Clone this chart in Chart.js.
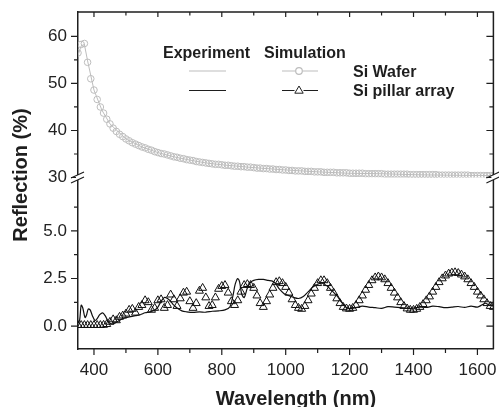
<!DOCTYPE html>
<html>
<head>
<meta charset="utf-8">
<script src="https://cdn.jsdelivr.net/npm/chart.js@4.4.0/dist/chart.umd.min.js"></script>
<style>
  html, body { margin: 0; padding: 0; background: #fff; }
</style>
</head>
<body>
<canvas id="chart" width="499" height="407"></canvas>
<script>
// Reflection spectra: Si wafer vs Si pillar array

// simulation wavelengths (nm)
const simWl = [
  350, 360, 370, 380, 390, 400, 410, 420, 430, 440,
  450, 460, 470, 480, 490, 500, 510, 520, 530, 540,
  550, 560, 570, 580, 590, 600, 610, 620, 630, 640,
  650, 660, 670, 680, 690, 700, 710, 720, 730, 740,
  750, 760, 770, 780, 790, 800, 810, 820, 830, 840,
  850, 860, 870, 880, 890, 900, 910, 920, 930, 940,
  950, 960, 970, 980, 990, 1000, 1010, 1020, 1030, 1040,
  1050, 1060, 1070, 1080, 1090, 1100, 1110, 1120, 1130, 1140,
  1150, 1160, 1170, 1180, 1190, 1200, 1210, 1220, 1230, 1240,
  1250, 1260, 1270, 1280, 1290, 1300, 1310, 1320, 1330, 1340,
  1350, 1360, 1370, 1380, 1390, 1400, 1410, 1420, 1430, 1440,
  1450, 1460, 1470, 1480, 1490, 1500, 1510, 1520, 1530, 1540,
  1550, 1560, 1570, 1580, 1590, 1600, 1610, 1620, 1630, 1640,
  1650
];

// simulated Si wafer (%)
const simWafer = [
  56.5, 58.3, 58.5, 54.5, 51.0, 48.6, 46.6, 45.0, 43.7, 42.4,
  41.4, 40.5, 39.8, 39.2, 38.7, 38.2, 37.8, 37.4, 37.1, 36.8,
  36.5, 36.3, 36.0, 35.8, 35.5, 35.3, 35.1, 35.0, 34.8, 34.6,
  34.4, 34.3, 34.1, 34.0, 33.8, 33.7, 33.6, 33.4, 33.3, 33.2,
  33.1, 33.0, 32.9, 32.8, 32.8, 32.7, 32.6, 32.6, 32.5, 32.4,
  32.4, 32.3, 32.3, 32.2, 32.2, 32.1, 32.0, 32.0, 31.9, 31.9,
  31.8, 31.8, 31.7, 31.7, 31.6, 31.6, 31.5, 31.5, 31.4, 31.4,
  31.4, 31.3, 31.3, 31.3, 31.2, 31.2, 31.2, 31.1, 31.1, 31.1,
  31.1, 31.0, 31.0, 31.0, 31.0, 30.9, 30.9, 30.9, 30.9, 30.9,
  30.8, 30.8, 30.8, 30.8, 30.8, 30.8, 30.7, 30.7, 30.7, 30.7,
  30.7, 30.7, 30.7, 30.7, 30.6, 30.6, 30.6, 30.6, 30.6, 30.6,
  30.6, 30.6, 30.6, 30.5, 30.5, 30.5, 30.5, 30.5, 30.5, 30.5,
  30.5, 30.5, 30.5, 30.4, 30.4, 30.4, 30.4, 30.4, 30.4, 30.4,
  30.4
];

// simulated Si pillar array (%)
const simPillar = [
  0.05, 0.05, 0.05, 0.05, 0.05, 0.05, 0.05, 0.05, 0.06, 0.1,
  0.22, 0.35, 0.3, 0.48, 0.55, 0.65, 0.85, 0.9, 0.7, 1.0,
  1.1, 1.35, 1.25, 0.85, 0.95, 1.35, 1.4, 0.95, 1.1, 1.65,
  1.4, 1.05, 1.45, 1.75, 1.8, 1.3, 0.95, 1.2, 1.85, 2.0,
  1.5, 1.05, 1.1, 1.5, 1.95, 2.1, 2.15, 1.75, 1.3, 1.1,
  1.35, 1.8, 2.15, 2.2, 2.15, 2.0, 1.6, 1.2, 1.0, 1.3,
  1.65, 2.0, 2.3, 2.35, 2.25, 2.05, 1.75, 1.4, 1.1, 0.95,
  0.9, 1.05, 1.35, 1.7, 2.0, 2.25, 2.4, 2.4, 2.25, 2.0,
  1.75, 1.45, 1.2, 1.0, 0.92, 0.9, 0.95, 1.1, 1.35, 1.6,
  1.9, 2.15, 2.4, 2.55, 2.6, 2.55, 2.45, 2.25, 2.0, 1.75,
  1.5, 1.25, 1.05, 0.92, 0.85, 0.85, 0.9, 1.0, 1.15, 1.35,
  1.55, 1.8, 2.05, 2.3, 2.5, 2.65, 2.75, 2.8, 2.82, 2.78,
  2.7, 2.6, 2.45, 2.25, 2.05, 1.8, 1.6, 1.4, 1.2, 1.05,
  1.0
];

// measured Si wafer
const expWaferWl = [350, 360, 370, 380, 400, 425, 450, 500, 550, 600, 650, 700, 750, 800, 900, 1000, 1100, 1200, 1300, 1400, 1500, 1650];
const expWaferVal = [56.0, 58.0, 58.3, 54.8, 48.6, 44.3, 41.4, 38.2, 36.5, 35.3, 34.4, 33.7, 33.1, 32.7, 32.1, 31.6, 31.2, 30.9, 30.8, 30.6, 30.5, 30.4];

// measured Si pillar array
const expPillarWl = [
  350, 355, 360, 365, 372, 377, 382, 388, 395, 403, 410, 418, 427, 435, 443, 450,
  460, 470, 480, 490, 500, 515, 530, 545, 560, 575, 590, 600, 610, 620, 630, 640,
  650, 660, 675, 690, 710, 730, 750, 770, 790, 810, 825, 835, 842, 850, 856, 862,
  870, 880, 890, 900, 915, 930, 945, 960, 970, 980, 995, 1010, 1025, 1040, 1055,
  1070, 1085, 1100, 1115, 1130, 1145, 1160, 1175, 1190, 1205, 1220, 1240, 1260,
  1280, 1300, 1320, 1340, 1360, 1380, 1400, 1420, 1440, 1460, 1480, 1500, 1520,
  1540, 1560, 1580, 1600, 1615, 1625, 1635, 1650
];
const expPillarVal = [
  0.15, 0.3, 1.1, 0.95, 0.45, 0.6, 0.9, 0.85, 0.55, 0.3, 0.4, 0.6, 0.7, 0.55, 0.3, 0.15,
  0.12, 0.2, 0.3, 0.4, 0.45, 0.5, 0.55, 0.6, 0.7, 0.75, 0.85, 1.0, 1.3, 1.5, 1.45, 1.3,
  1.1, 0.95, 0.8, 0.75, 0.72, 0.75, 0.73, 0.78, 0.8, 0.85, 1.0, 1.6, 2.2, 2.5, 2.3, 1.7,
  1.5, 2.0, 2.3, 2.4, 2.45, 2.45, 2.4, 2.35, 2.2, 1.95, 1.7, 1.6, 1.5, 1.45, 1.55,
  1.8, 2.05, 2.2, 2.25, 2.1, 1.85, 1.6, 1.25, 0.98, 0.92, 0.97, 1.05, 1.0,
  0.97, 0.93, 1.02, 1.0, 0.97, 0.93, 0.95, 1.0, 0.98, 1.05, 1.02, 0.97, 1.0,
  1.03, 0.98, 1.05, 1.0, 1.12, 1.2, 1.12, 1.07
];

// axis ticks
const xTicks = [400, 500, 600, 700, 800, 900, 1000, 1100, 1200, 1300, 1400, 1500, 1600];
const xLabels = [400, 600, 800, 1000, 1200, 1400, 1600];
const yTopTicks = [30, 35, 40, 45, 50, 55, 60];
const yTopLabels = [30, 40, 50, 60];
const yBotTicks = [0, 1.25, 2.5, 3.75, 5, 6.25];
const yBotLabels = [0, 2.5, 5];

const axisColor = '#1e1e1e';
const waferColor = '#bdbdbd';
const fontFamily = "'Liberation Sans', Arial, sans-serif";

function toPoints(xs, ys) {
  return xs.map((x, i) => ({ x: x, y: ys[i] }));
}

// keep chart area fixed: no extra room for edge labels
function fixPadding(axis) {
  axis.paddingTop = 0;
  axis.paddingBottom = 0;
  axis.paddingLeft = 0;
  axis.paddingRight = 0;
}

// frame, inward/outward ticks, axis break, titles and legend
const decorations = {
  id: 'decorations',
  afterDraw(chart) {
    const { ctx, chartArea: a, scales } = chart;
    const sx = scales.x, yt = scales.yTop, yb = scales.yBot;
    ctx.save();
    ctx.strokeStyle = axisColor;
    ctx.lineWidth = 1.5;

    // top + right frame
    ctx.beginPath();
    ctx.moveTo(a.left, a.top);
    ctx.lineTo(a.right, a.top);
    ctx.lineTo(a.right, a.bottom);
    ctx.stroke();

    ctx.lineWidth = 1.2;
    ctx.beginPath();
    xTicks.forEach(v => {
      const px = sx.getPixelForValue(v);
      const major = xLabels.includes(v);
      ctx.moveTo(px, a.bottom);
      ctx.lineTo(px, a.bottom + (major ? 6 : 4));
      ctx.moveTo(px, a.top);
      ctx.lineTo(px, a.top + (major ? 5 : 3.5));
    });
    const yTick = (scale, v, major) => {
      const py = scale.getPixelForValue(v);
      ctx.moveTo(a.left, py);
      ctx.lineTo(a.left - (major ? 7 : 4), py);
      ctx.moveTo(a.right, py);
      ctx.lineTo(a.right - (major ? 7 : 4), py);
    };
    yTopTicks.forEach(v => yTick(yt, v, yTopLabels.includes(v)));
    yBotTicks.forEach(v => yTick(yb, v, yBotLabels.includes(v)));
    ctx.stroke();

    // axis break marks
    const by = yb.top;
    [a.left, a.right].forEach(ax => {
      ctx.fillStyle = '#fff';
      ctx.fillRect(ax - 2, by - 2.5, 4, 5);
      ctx.beginPath();
      ctx.moveTo(ax - 7, by + 0.5);
      ctx.lineTo(ax + 6, by - 5.5);
      ctx.moveTo(ax - 7, by + 5.5);
      ctx.lineTo(ax + 6, by - 0.5);
      ctx.stroke();
    });

    // axis titles
    ctx.fillStyle = axisColor;
    ctx.font = 'bold 20px ' + fontFamily;
    ctx.textAlign = 'center';
    ctx.textBaseline = 'alphabetic';
    ctx.fillText('Wavelength (nm)', 296, 405);
    ctx.save();
    ctx.translate(27, 175);
    ctx.rotate(-Math.PI / 2);
    ctx.fillText('Reflection (%)', 0, 0);
    ctx.restore();

    // legend
    ctx.font = 'bold 16px ' + fontFamily;
    ctx.textAlign = 'left';
    ctx.fillText('Experiment', 163, 58);
    ctx.fillText('Simulation', 264, 58);
    ctx.fillText('Si Wafer', 353, 77);
    ctx.fillText('Si pillar array', 353, 96);

    ctx.lineWidth = 1.2;
    ctx.strokeStyle = waferColor;
    ctx.beginPath();
    ctx.moveTo(189, 71); ctx.lineTo(226, 71);
    ctx.moveTo(282, 71); ctx.lineTo(295.5, 71);
    ctx.moveTo(302.5, 71); ctx.lineTo(318, 71);
    ctx.stroke();
    ctx.beginPath();
    ctx.arc(299, 71, 3.3, 0, Math.PI * 2);
    ctx.stroke();

    ctx.strokeStyle = axisColor;
    ctx.beginPath();
    ctx.moveTo(189, 90.5); ctx.lineTo(226, 90.5);
    ctx.moveTo(282, 90.5); ctx.lineTo(294.5, 90.5);
    ctx.moveTo(303.5, 90.5); ctx.lineTo(318, 90.5);
    ctx.stroke();
    ctx.lineWidth = 1;
    ctx.beginPath();
    ctx.moveTo(299, 86);
    ctx.lineTo(303.2, 93.2);
    ctx.lineTo(294.8, 93.2);
    ctx.closePath();
    ctx.stroke();

    ctx.restore();
  }
};

new Chart(document.getElementById('chart'), {
  type: 'line',
  data: {
    datasets: [
      {
        label: 'Experiment Si Wafer',
        data: toPoints(expWaferWl, expWaferVal),
        yAxisID: 'yTop',
        borderColor: waferColor,
        borderWidth: 1,
        pointRadius: 0,
        tension: 0
      },
      {
        label: 'Simulation Si Wafer',
        data: toPoints(simWl, simWafer),
        yAxisID: 'yTop',
        showLine: false,
        pointStyle: 'circle',
        pointRadius: 3.3,
        pointBorderWidth: 1,
        pointBorderColor: waferColor,
        pointBackgroundColor: 'rgba(255,255,255,0)'
      },
      {
        label: 'Experiment Si pillar array',
        data: toPoints(expPillarWl, expPillarVal),
        yAxisID: 'yBot',
        borderColor: '#111',
        borderWidth: 1.2,
        pointRadius: 0,
        tension: 0.3
      },
      {
        label: 'Simulation Si pillar array',
        data: toPoints(simWl, simPillar),
        yAxisID: 'yBot',
        showLine: false,
        pointStyle: 'triangle',
        pointRadius: 4.6,
        pointBorderWidth: 1,
        pointBorderColor: '#111',
        pointBackgroundColor: 'rgba(255,255,255,0)'
      }
    ]
  },
  options: {
    responsive: false,
    animation: false,
    events: [],
    layout: { padding: { top: 12, right: 3, left: 0, bottom: 0 } },
    plugins: {
      legend: { display: false },
      tooltip: { enabled: false }
    },
    scales: {
      x: {
        type: 'linear',
        min: 350,
        max: 1650,
        afterBuildTicks: axis => { axis.ticks = xTicks.map(v => ({ value: v })); },
        afterFit: axis => { axis.height = 58; fixPadding(axis); },
        grid: { drawOnChartArea: false, drawTicks: false },
        border: { color: axisColor, width: 1.5 },
        ticks: {
          autoSkip: false,
          maxRotation: 0,
          padding: 11,
          color: '#222',
          font: { family: fontFamily, size: 17 },
          callback: v => xLabels.includes(v) ? String(v) : ''
        }
      },
      yBot: {
        type: 'linear',
        position: 'left',
        stack: 'refl',
        stackWeight: 171.5,
        min: -1.2,
        max: 7.8,
        afterBuildTicks: axis => { axis.ticks = yBotTicks.map(v => ({ value: v })); },
        afterFit: axis => { axis.width = 78; fixPadding(axis); },
        grid: { drawOnChartArea: false, drawTicks: false },
        border: { color: axisColor, width: 1.5 },
        ticks: {
          autoSkip: false,
          padding: 11,
          color: '#222',
          font: { family: fontFamily, size: 17 },
          callback: v => yBotLabels.includes(v) ? v.toFixed(1) : ''
        }
      },
      yTop: {
        type: 'linear',
        position: 'left',
        stack: 'refl',
        stackWeight: 165.5,
        min: 30,
        max: 65.2,
        afterBuildTicks: axis => { axis.ticks = yTopTicks.map(v => ({ value: v })); },
        afterFit: axis => { axis.width = 78; fixPadding(axis); },
        grid: { drawOnChartArea: false, drawTicks: false },
        border: { color: axisColor, width: 1.5 },
        ticks: {
          autoSkip: false,
          padding: 11,
          color: '#222',
          font: { family: fontFamily, size: 17 },
          callback: v => yTopLabels.includes(v) ? String(v) : ''
        }
      }
    }
  },
  plugins: [decorations]
});
</script>
</body>
</html>
